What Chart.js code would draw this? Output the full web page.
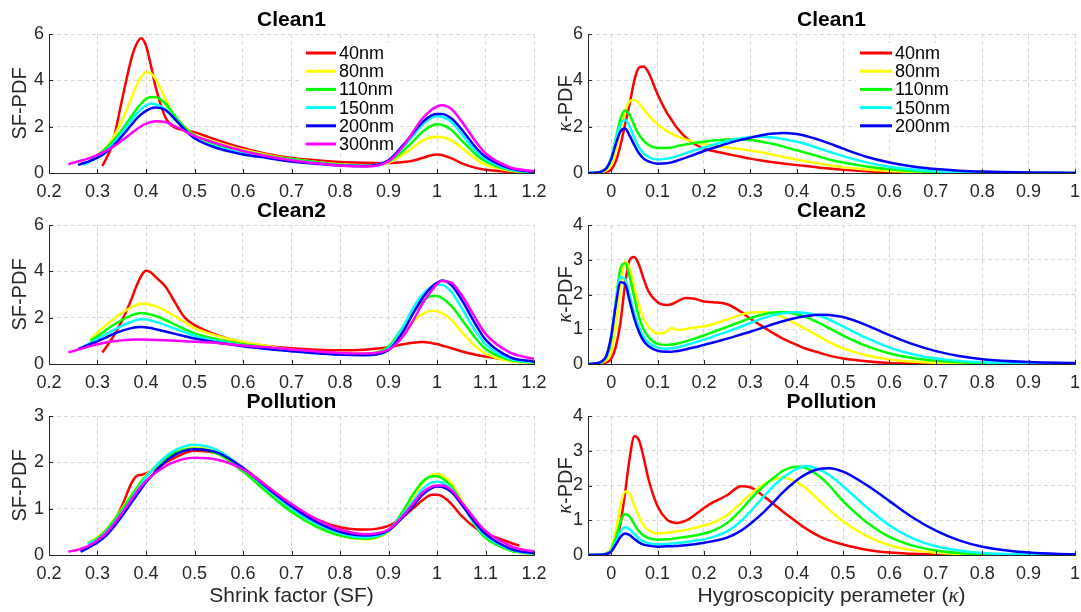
<!DOCTYPE html>
<html><head><meta charset="utf-8">
<script src="https://cdn.jsdelivr.net/npm/chart.js@4.4.1/dist/chart.umd.min.js"></script>
<style>
html,body{margin:0;padding:0;background:#fff;}
#stage{position:relative;width:1081px;height:612px;overflow:hidden;background:#fff;}
#stage canvas{position:absolute;left:0;top:0;}
</style>
</head><body><div id="stage"></div>
<script>
// ---------------- DATA ----------------
const sizeLabels = ['40nm','80nm','110nm','150nm','200nm','300nm'];

// Shrink-factor tick values / labels
const sfTicks = [0.2,0.3,0.4,0.5,0.6,0.7,0.8,0.9,1.0,1.1,1.2];
const sfTickLabels = ['0.2','0.3','0.4','0.5','0.6','0.7','0.8','0.9','1','1.1','1.2'];
// Kappa tick values / labels
const kTicks = [0,0.1,0.2,0.3,0.4,0.5,0.6,0.7,0.8,0.9,1.0];
const kTickLabels = ['0','0.1','0.2','0.3','0.4','0.5','0.6','0.7','0.8','0.9','1'];
const yTicks6 = [0,2,4,6];
const yTickLabels6 = ['0','2','4','6'];
const yTicks4 = [0,1,2,3,4];
const yTickLabels4 = ['0','1','2','3','4'];
const yTicks3 = [0,1,2,3];
const yTickLabels3 = ['0','1','2','3'];

// SF grid for Clean1 / Clean2
const sfX = [0.24,0.26,0.27,0.285,0.30,0.31,0.33,0.35,0.37,0.38,0.39,0.40,0.41,0.42,0.44,0.46,0.48,0.50,0.55,0.60,0.65,0.70,0.75,0.80,0.85,0.90,0.93,0.95,0.97,0.99,1.00,1.01,1.03,1.05,1.08,1.10,1.15,1.20];

const c1sf40  = [null,null,null,null,null,0.3,1.2,3.1,4.95,5.55,5.82,5.5,4.65,3.7,2.4,1.95,1.85,1.76,1.4,1.08,0.82,0.65,0.55,0.48,0.44,0.43,0.47,0.53,0.65,0.78,0.8,0.78,0.63,0.43,0.22,0.14,0.05,0.02];
const c1sf80  = [null,null,null,0.55,0.75,0.92,1.45,2.25,3.25,3.75,4.15,4.35,4.3,4.05,3.2,2.4,1.95,1.65,1.3,1.0,0.78,0.6,0.48,0.38,0.32,0.45,0.8,1.1,1.4,1.55,1.57,1.55,1.4,1.1,0.6,0.35,0.1,0.03];
const c1sf110 = [null,null,null,0.6,0.78,0.93,1.33,1.85,2.45,2.75,3.0,3.2,3.28,3.27,3.0,2.45,1.97,1.62,1.2,0.95,0.75,0.6,0.47,0.36,0.3,0.5,0.95,1.35,1.78,2.05,2.1,2.08,1.85,1.42,0.8,0.5,0.13,0.03];
const c1sf150 = [null,null,0.35,0.5,0.68,0.83,1.22,1.72,2.28,2.53,2.76,2.92,3.0,2.97,2.75,2.3,1.85,1.5,1.1,0.85,0.68,0.55,0.43,0.33,0.3,0.52,1.1,1.6,2.08,2.4,2.45,2.43,2.2,1.7,0.95,0.6,0.16,0.04];
const c1sf200 = [null,0.35,0.42,0.52,0.66,0.78,1.12,1.58,2.08,2.33,2.53,2.68,2.79,2.83,2.72,2.32,1.87,1.5,1.05,0.8,0.65,0.5,0.4,0.32,0.3,0.55,1.2,1.7,2.2,2.5,2.55,2.55,2.35,1.9,1.1,0.7,0.2,0.05];
const c1sf300 = [0.38,0.5,0.56,0.65,0.78,0.88,1.1,1.4,1.72,1.88,2.02,2.13,2.2,2.23,2.2,2.02,1.8,1.6,1.25,0.95,0.72,0.55,0.42,0.32,0.28,0.5,1.15,1.75,2.35,2.75,2.87,2.92,2.75,2.25,1.35,0.85,0.25,0.08];

const c2sf40  = [null,null,null,null,null,0.5,1.1,1.85,2.8,3.35,3.8,4.02,3.95,3.75,3.35,2.65,2.0,1.68,1.22,0.93,0.78,0.68,0.62,0.59,0.62,0.72,0.85,0.92,0.95,0.9,0.86,0.8,0.68,0.55,0.4,0.32,0.17,0.08];
const c2sf80  = [null,null,null,1.05,1.35,1.55,1.9,2.2,2.45,2.55,2.6,2.6,2.55,2.5,2.3,2.05,1.8,1.55,1.2,0.95,0.78,0.62,0.52,0.45,0.45,0.72,1.35,1.8,2.15,2.3,2.28,2.2,1.9,1.4,0.75,0.45,0.13,0.05];
const c2sf110 = [null,null,null,1.0,1.2,1.35,1.65,1.9,2.1,2.17,2.2,2.18,2.13,2.07,1.9,1.7,1.5,1.32,1.05,0.85,0.72,0.6,0.5,0.43,0.42,0.75,1.6,2.2,2.7,2.93,2.93,2.85,2.5,1.95,1.1,0.65,0.18,0.06];
const c2sf150 = [null,null,0.75,0.9,1.08,1.2,1.43,1.65,1.82,1.9,1.93,1.92,1.88,1.82,1.68,1.52,1.37,1.22,0.98,0.8,0.68,0.56,0.47,0.41,0.4,0.68,1.6,2.4,3.0,3.35,3.42,3.42,3.1,2.45,1.4,0.85,0.22,0.07];
const c2sf200 = [null,0.65,0.73,0.86,0.98,1.07,1.27,1.43,1.55,1.59,1.6,1.58,1.55,1.5,1.4,1.3,1.2,1.1,0.92,0.77,0.65,0.55,0.46,0.4,0.38,0.6,1.4,2.15,2.85,3.35,3.5,3.6,3.4,2.8,1.7,1.05,0.3,0.1];
const c2sf300 = [0.5,0.62,0.68,0.77,0.85,0.9,0.97,1.02,1.05,1.06,1.06,1.05,1.05,1.04,1.02,1.0,0.98,0.96,0.9,0.8,0.72,0.63,0.55,0.48,0.45,0.62,1.2,1.85,2.6,3.2,3.45,3.58,3.5,3.0,1.95,1.3,0.5,0.22];

// SF grid for Pollution
const sfXp = [0.24,0.265,0.28,0.29,0.30,0.32,0.35,0.37,0.38,0.39,0.40,0.45,0.50,0.55,0.60,0.65,0.70,0.75,0.80,0.85,0.90,0.93,0.95,0.97,0.99,1.00,1.01,1.03,1.05,1.08,1.10,1.15,1.17,1.20];
const psf40  = [null,null,null,0.28,0.32,0.5,1.05,1.55,1.7,1.73,1.76,2.05,2.25,2.18,1.88,1.48,1.08,0.78,0.6,0.55,0.63,0.82,1.0,1.18,1.3,1.3,1.27,1.1,0.85,0.58,0.47,0.27,0.2,null];
const psf80  = [null,null,0.26,0.32,0.38,0.58,1.0,1.3,1.45,1.6,1.72,2.15,2.32,2.2,1.85,1.38,0.95,0.62,0.42,0.34,0.5,0.92,1.25,1.55,1.73,1.75,1.72,1.55,1.2,0.65,0.38,0.1,0.06,0.03];
const psf110 = [null,null,0.25,0.3,0.36,0.56,0.98,1.28,1.43,1.58,1.7,2.15,2.3,2.17,1.8,1.35,0.93,0.62,0.42,0.35,0.52,0.95,1.3,1.58,1.7,1.7,1.66,1.48,1.15,0.62,0.37,0.1,0.06,0.03];
const psf150 = [null,null,0.25,0.28,0.33,0.52,0.92,1.22,1.38,1.53,1.68,2.2,2.38,2.25,1.87,1.42,1.0,0.68,0.47,0.38,0.53,0.88,1.15,1.42,1.57,1.58,1.56,1.42,1.12,0.65,0.42,0.12,0.07,0.03];
const psf200 = [null,0.07,0.15,0.21,0.27,0.44,0.83,1.13,1.28,1.43,1.57,2.1,2.28,2.2,1.88,1.45,1.05,0.72,0.5,0.42,0.53,0.82,1.05,1.3,1.45,1.48,1.47,1.36,1.1,0.68,0.45,0.14,0.08,0.04];
const psf300 = [0.07,0.13,0.19,0.25,0.32,0.5,0.9,1.2,1.35,1.48,1.6,1.97,2.1,2.05,1.85,1.48,1.1,0.78,0.55,0.45,0.55,0.85,1.1,1.35,1.48,1.5,1.5,1.4,1.15,0.75,0.52,0.2,0.13,0.08];

// Kappa grid (all right-hand panels)
const kX = [-0.05,-0.03,-0.02,-0.01,0,0.01,0.02,0.03,0.04,0.05,0.06,0.07,0.08,0.1,0.12,0.13,0.14,0.16,0.18,0.2,0.22,0.25,0.28,0.3,0.33,0.35,0.37,0.4,0.42,0.45,0.47,0.5,0.55,0.6,0.65,0.7,0.75,0.8,0.9,1.0];

const c1k40  = [0,0,0.02,0.05,0.15,0.5,1.2,2.1,3.0,4.0,4.55,4.6,4.35,3.4,2.6,2.3,2.0,1.55,1.25,1.05,0.95,0.82,0.7,0.62,0.52,0.46,0.41,0.34,0.3,0.23,0.19,0.14,0.08,0.045,0.02,0.01,0.005,0,0,0];
const c1k80  = [0,0.01,0.04,0.12,0.35,1.0,1.9,2.65,3.1,3.15,3.0,2.75,2.5,2.1,1.8,1.7,1.6,1.45,1.33,1.25,1.18,1.1,1.03,0.97,0.87,0.78,0.7,0.58,0.5,0.4,0.33,0.25,0.15,0.09,0.05,0.03,0.015,0.01,0,0];
const c1k110 = [0,0.02,0.06,0.2,0.6,1.5,2.35,2.7,2.5,2.05,1.65,1.4,1.22,1.08,1.08,1.1,1.15,1.23,1.3,1.35,1.4,1.45,1.45,1.42,1.33,1.25,1.15,0.98,0.87,0.7,0.58,0.45,0.28,0.16,0.09,0.05,0.03,0.015,0.005,0];
const c1k150 = [0,0.02,0.07,0.22,0.65,1.45,2.1,2.3,2.0,1.5,1.1,0.85,0.7,0.58,0.62,0.66,0.72,0.85,0.98,1.1,1.22,1.38,1.5,1.55,1.57,1.53,1.47,1.35,1.25,1.05,0.92,0.73,0.46,0.27,0.15,0.08,0.04,0.02,0.005,0];
const c1k200 = [0,0.02,0.07,0.22,0.6,1.25,1.8,1.92,1.6,1.2,0.85,0.62,0.5,0.4,0.42,0.46,0.52,0.65,0.8,0.95,1.08,1.27,1.43,1.52,1.65,1.7,1.73,1.68,1.6,1.42,1.28,1.05,0.7,0.45,0.28,0.17,0.1,0.06,0.02,0.005];

const c2k40  = [0,0,0.02,0.05,0.15,0.5,1.2,2.3,3.0,3.08,2.85,2.45,2.1,1.78,1.7,1.72,1.78,1.9,1.88,1.8,1.78,1.72,1.5,1.3,1.05,0.88,0.73,0.55,0.44,0.32,0.24,0.16,0.08,0.03,0.015,0.005,0,0,0,0];
const c2k80  = [0,0.01,0.04,0.12,0.35,1.1,2.2,2.95,2.75,2.2,1.7,1.3,1.08,0.88,0.93,1.04,0.98,1.0,1.05,1.08,1.15,1.28,1.42,1.48,1.5,1.45,1.35,1.15,1.0,0.78,0.63,0.45,0.25,0.13,0.07,0.035,0.02,0.01,0,0];
const c2k110 = [0,0.02,0.06,0.2,0.7,1.8,2.75,2.9,2.5,1.9,1.35,1.0,0.78,0.58,0.55,0.56,0.58,0.65,0.73,0.82,0.92,1.07,1.22,1.32,1.44,1.48,1.5,1.43,1.35,1.17,1.03,0.82,0.52,0.3,0.17,0.09,0.05,0.025,0.01,0];
const c2k150 = [0,0.02,0.08,0.25,0.8,1.8,2.5,2.45,1.95,1.45,1.05,0.78,0.62,0.47,0.44,0.45,0.47,0.54,0.62,0.7,0.79,0.93,1.08,1.18,1.33,1.41,1.46,1.49,1.47,1.38,1.28,1.08,0.75,0.47,0.28,0.16,0.09,0.05,0.015,0.005];
const c2k200 = [0,0.02,0.08,0.25,0.8,1.7,2.35,2.3,1.8,1.3,0.92,0.66,0.52,0.38,0.35,0.35,0.37,0.42,0.48,0.55,0.62,0.73,0.85,0.93,1.06,1.15,1.23,1.33,1.38,1.42,1.41,1.35,1.12,0.83,0.57,0.37,0.23,0.14,0.06,0.03];

const pk40  = [0,0,0.01,0.03,0.1,0.35,0.9,1.8,2.8,3.42,3.3,2.8,2.2,1.4,1.02,0.95,0.92,0.98,1.15,1.35,1.52,1.72,1.98,1.95,1.68,1.47,1.25,0.95,0.76,0.53,0.42,0.3,0.15,0.07,0.035,0.015,0.005,0,0,0];
const pk80  = [0,0.01,0.02,0.06,0.2,0.7,1.4,1.83,1.75,1.42,1.1,0.85,0.72,0.62,0.64,0.66,0.68,0.72,0.78,0.85,0.93,1.15,1.5,1.75,2.05,2.17,2.22,2.1,1.92,1.55,1.3,0.97,0.55,0.28,0.14,0.07,0.03,0.015,0,0];
const pk110 = [0,0.01,0.02,0.05,0.15,0.5,0.95,1.18,1.1,0.88,0.68,0.56,0.49,0.44,0.45,0.46,0.48,0.52,0.56,0.62,0.7,0.92,1.3,1.6,2.0,2.22,2.42,2.54,2.5,2.25,2.0,1.55,0.95,0.52,0.27,0.13,0.06,0.03,0.005,0];
const pk150 = [0,0.005,0.015,0.04,0.12,0.38,0.68,0.8,0.74,0.6,0.47,0.39,0.34,0.31,0.32,0.33,0.34,0.37,0.41,0.45,0.52,0.68,0.98,1.25,1.7,1.98,2.22,2.48,2.56,2.45,2.3,1.98,1.38,0.85,0.48,0.25,0.13,0.06,0.015,0.005];
const pk200 = [0,0.005,0.01,0.03,0.1,0.3,0.52,0.62,0.57,0.46,0.36,0.3,0.27,0.24,0.25,0.25,0.26,0.28,0.31,0.35,0.4,0.5,0.7,0.9,1.25,1.52,1.8,2.15,2.33,2.48,2.5,2.4,2.02,1.55,1.08,0.7,0.42,0.24,0.07,0.02];

// ---------------- STYLE ----------------
const seriesColors = ['#ff0000','#ffff00','#00ff00','#00ffff','#0000ff','#ff00ff'];
const FONT = '"Liberation Sans", Arial, Helvetica, sans-serif';
const KFONT = '"Liberation Serif", "DejaVu Serif", serif';
const TEXT_COLOR = '#262626';
const AXIS_COLOR = '#262626';
const GRID_COLOR = '#d6d6d6';
const W = 1081, H = 612;
const YAXIS_W = 44, XAXIS_H = 34;

const panels = [
  { title:'Clean1', x:sfX, ys:[c1sf40,c1sf80,c1sf110,c1sf150,c1sf200,c1sf300], xmin:0.2, xmax:1.2, xticks:sfTicks, xlabels:sfTickLabels,
    ymax:6, yticks:yTicks6, ylabels:yTickLabels6, box:[49,34,534,173], ylab:[{t:'SF-PDF'}], ylabGap:29,
    legend:{x0:306,x1:336,tx:339,y0:53,dy:18.2,bx0:302,bx1:396,by0:43,by1:152} },
  { title:'Clean1', x:kX, ys:[c1k40,c1k80,c1k110,c1k150,c1k200], xmin:-0.05, xmax:1.0, xticks:kTicks, xlabels:kTickLabels,
    ymax:6, yticks:yTicks6, ylabels:yTickLabels6, box:[588,34,1075,173], ylab:[{t:'κ',it:true},{t:'-PDF'}], ylabGap:22,
    legend:{x0:860,x1:892,tx:895,y0:53,dy:18.2,bx0:856,bx1:954,by0:43,by1:134} },
  { title:'Clean2', x:sfX, ys:[c2sf40,c2sf80,c2sf110,c2sf150,c2sf200,c2sf300], xmin:0.2, xmax:1.2, xticks:sfTicks, xlabels:sfTickLabels,
    ymax:6, yticks:yTicks6, ylabels:yTickLabels6, box:[49,225,534,364], ylab:[{t:'SF-PDF'}], ylabGap:29 },
  { title:'Clean2', x:kX, ys:[c2k40,c2k80,c2k110,c2k150,c2k200], xmin:-0.05, xmax:1.0, xticks:kTicks, xlabels:kTickLabels,
    ymax:4, yticks:yTicks4, ylabels:yTickLabels4, box:[588,225,1075,364], ylab:[{t:'κ',it:true},{t:'-PDF'}], ylabGap:22 },
  { title:'Pollution', x:sfXp, ys:[psf40,psf80,psf110,psf150,psf200,psf300], xmin:0.2, xmax:1.2, xticks:sfTicks, xlabels:sfTickLabels,
    ymax:3, yticks:yTicks3, ylabels:yTickLabels3, box:[49,416,534,555], ylab:[{t:'SF-PDF'}], ylabGap:29,
    xlab:[{t:'Shrink factor (SF)'}] },
  { title:'Pollution', x:kX, ys:[pk40,pk80,pk110,pk150,pk200], xmin:-0.05, xmax:1.0, xticks:kTicks, xlabels:kTickLabels,
    ymax:4, yticks:yTicks4, ylabels:yTickLabels4, box:[588,416,1075,555], ylab:[{t:'κ',it:true},{t:'-PDF'}], ylabGap:22,
    xlab:[{t:'Hygroscopicity perameter ('},{t:'κ',it:true},{t:')'}] }
];

// ---------------- DRAW ----------------
function drawRich(ctx, parts, x, y, size) {
  const fonts = parts.map(p => p.it ? `italic ${size}px ${KFONT}` : `${size}px ${FONT}`);
  let w = 0;
  parts.forEach((p, i) => { ctx.font = fonts[i]; w += ctx.measureText(p.t).width; });
  let cx = x - w / 2;
  ctx.textAlign = 'left';
  parts.forEach((p, i) => { ctx.font = fonts[i]; ctx.fillText(p.t, cx, y); cx += ctx.measureText(p.t).width; });
}

function decor(p) {
  return {
    id: 'decor',
    afterDraw(chart) {
      const { ctx, chartArea: a, scales } = chart;
      const sx = scales.x, sy = scales.y;
      ctx.save();
      // inward tick marks
      ctx.strokeStyle = AXIS_COLOR; ctx.lineWidth = 1; ctx.setLineDash([]);
      ctx.beginPath();
      sx.ticks.forEach(t => { const px = Math.round(sx.getPixelForValue(t.value)) + 0.5; ctx.moveTo(px, a.bottom); ctx.lineTo(px, a.bottom - 4); });
      sy.ticks.forEach(t => { const py = Math.round(sy.getPixelForValue(t.value)) + 0.5; ctx.moveTo(a.left, py); ctx.lineTo(a.left + 4, py); });
      ctx.stroke();
      // title
      ctx.fillStyle = '#000';
      ctx.font = `bold 21px ${FONT}`; ctx.textAlign = 'center'; ctx.textBaseline = 'alphabetic';
      ctx.fillText(p.title, (a.left + a.right) / 2, a.top - 8);
      // y label
      ctx.save();
      ctx.translate(a.left - p.ylabGap, (a.top + a.bottom) / 2);
      ctx.rotate(-Math.PI / 2);
      ctx.fillStyle = TEXT_COLOR; ctx.textBaseline = 'middle';
      drawRich(ctx, p.ylab, 0, 0, 20);
      ctx.restore();
      // x label
      if (p.xlab) {
        ctx.fillStyle = TEXT_COLOR; ctx.textBaseline = 'alphabetic';
        drawRich(ctx, p.xlab, (a.left + a.right) / 2, a.bottom + 47, 21);
      }
      // legend
      if (p.legend) {
        const L = p.legend;
        ctx.fillStyle = '#fff';
        ctx.fillRect(L.bx0, L.by0, L.bx1 - L.bx0, L.by1 - L.by0);
        chart.data.datasets.forEach((ds, i) => {
          const yy = L.y0 + i * L.dy;
          ctx.strokeStyle = ds.borderColor; ctx.lineWidth = 3;
          ctx.beginPath(); ctx.moveTo(L.x0, yy); ctx.lineTo(L.x1, yy); ctx.stroke();
          ctx.fillStyle = '#000'; ctx.font = `18px ${FONT}`;
          ctx.textAlign = 'left'; ctx.textBaseline = 'middle';
          ctx.fillText(ds.label, L.tx, yy + 1);
        });
      }
      ctx.restore();
    }
  };
}

function zeroPad(s) { s.paddingLeft = 0; s.paddingRight = 0; s.paddingTop = 0; s.paddingBottom = 0; }

function buildPanel(p) {
  const stage = document.getElementById('stage');
  const canvas = document.createElement('canvas');
  canvas.width = W; canvas.height = H;
  canvas.style.width = W + 'px'; canvas.style.height = H + 'px';
  stage.appendChild(canvas);
  const n = p.ys.length;
  const datasets = p.ys.map((ys, i) => ({
    label: sizeLabels[i],
    data: p.x.map((xv, j) => ({ x: xv, y: ys[j] })),
    borderColor: seriesColors[i],
    backgroundColor: seriesColors[i],
    borderWidth: 2.5,
    pointRadius: 0,
    pointHoverRadius: 0,
    fill: false,
    spanGaps: false,
    cubicInterpolationMode: 'monotone',
    order: n - i
  }));
  new Chart(canvas, {
    type: 'line',
    data: { datasets },
    options: {
      responsive: false, animation: false, devicePixelRatio: 1, events: [],
      layout: { padding: { left: p.box[0] - YAXIS_W, top: p.box[1], right: W - p.box[2], bottom: H - p.box[3] - XAXIS_H } },
      plugins: { legend: { display: false }, tooltip: { enabled: false }, title: { display: false } },
      scales: {
        x: {
          type: 'linear', position: 'bottom', min: p.xmin, max: p.xmax,
          afterBuildTicks: s => { s.ticks = p.xticks.map(v => ({ value: v })); },
          afterFit: s => { s.height = XAXIS_H; zeroPad(s); },
          ticks: { autoSkip: false, maxRotation: 0, minRotation: 0, padding: 8, color: TEXT_COLOR,
                   font: { family: FONT, size: 18 }, callback: (v, i) => p.xlabels[i] },
          grid: { display: true, drawTicks: false, color: GRID_COLOR, lineWidth: 1, borderDash: [4, 3] },
          border: { display: true, color: AXIS_COLOR, width: 1, dash: [4, 3] }
        },
        y: {
          type: 'linear', position: 'left', min: 0, max: p.ymax,
          afterBuildTicks: s => { s.ticks = p.yticks.map(v => ({ value: v })); },
          afterFit: s => { s.width = YAXIS_W; zeroPad(s); },
          ticks: { autoSkip: false, padding: 5, color: TEXT_COLOR,
                   font: { family: FONT, size: 18 }, callback: (v, i) => p.ylabels[i] },
          grid: { display: true, drawTicks: false, color: GRID_COLOR, lineWidth: 1, borderDash: [4, 3] },
          border: { display: true, color: AXIS_COLOR, width: 1, dash: [4, 3] }
        }
      }
    },
    plugins: [decor(p)]
  });
}

panels.forEach(buildPanel);
</script>
</body></html>
